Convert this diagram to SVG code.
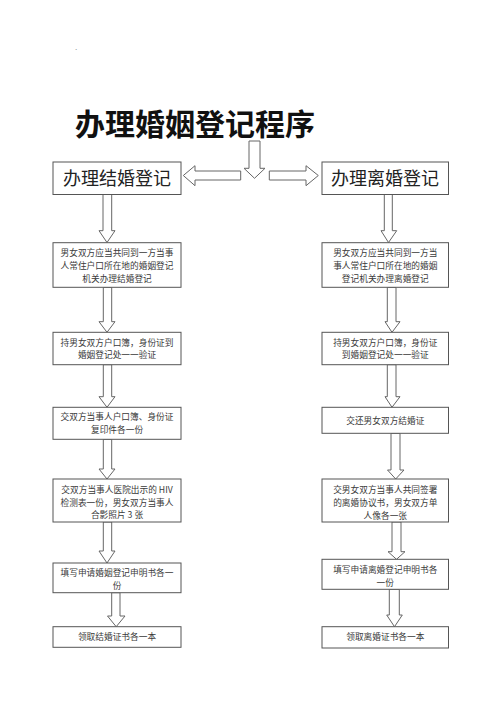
<svg xmlns="http://www.w3.org/2000/svg" width="500" height="708" viewBox="0 0 500 708">
<style>
.bg{fill:#ffffff}
.box{fill:#ffffff;stroke:#555555;stroke-width:1}
.arr{fill:#ffffff;stroke:#666666;stroke-width:1;stroke-linejoin:miter}
.t{font-family:"Noto Sans CJK SC","Liberation Serif",serif;font-size:8.7px;fill:#3a3a3a;text-anchor:middle}
.h{font-family:"Noto Sans CJK SC","Liberation Sans",sans-serif;font-size:18px;fill:#222222;text-anchor:middle}
.title{font-family:"Noto Sans CJK SC","Liberation Sans",sans-serif;font-size:30px;font-weight:bold;fill:#111111}
</style>
<rect class="bg" x="0" y="0" width="500" height="708"/>
<text x="75" y="50" font-family="Liberation Serif, serif" font-size="9" fill="#777777">.</text>
<text id="title" class="title" x="75" y="135">办理婚姻登记程序</text>

<g id="connectors">
  <polygon class="arr" points="249,141 260,141 260,168.3 265,168.3 254.5,178.3 244,168.3 249,168.3"/>
  <polygon class="arr" points="240.7,171 240.7,180 195,180 195,185.7 183.3,175.5 195,165.7 195,171"/>
  <polygon class="arr" points="269.3,171 269.3,180 306,180 306,185.7 318.3,175.5 306,165.7 306,171"/>

  <polygon class="arr" points="103,194 111.7,194 111.7,230.7 115,230.7 107,242.5 99,230.7 103,230.7"/>
  <polygon class="arr" points="103.3,287.3 111.7,287.3 111.7,321.7 115,321.7 107,332.3 99,321.7 103.3,321.7"/>
  <polygon class="arr" points="103.3,364.7 111.7,364.7 111.7,396.7 115,396.7 107,407.3 99,396.7 103.3,396.7"/>
  <polygon class="arr" points="103.3,439.3 111.7,439.3 111.7,469 115,469 107,479 99,469 103.3,469"/>
  <polygon class="arr" points="103.3,522 111.7,522 111.7,551 115,551 107,563 99,551 103.3,551"/>
  <polygon class="arr" points="111.7,592.7 120,592.7 120,616 125,616 116.2,626.7 107.5,616 111.7,616"/>

  <polygon class="arr" points="384.3,194 392.3,194 392.3,230.7 396.7,230.7 388.5,242.5 381,230.7 384.3,230.7"/>
  <polygon class="arr" points="387.3,287.3 396,287.3 396,321.7 400,321.7 392,332.3 385,321.7 387.3,321.7"/>
  <polygon class="arr" points="387.3,364.7 396,364.7 396,396.7 400,396.7 392,407.3 385,396.7 387.3,396.7"/>
  <polygon class="arr" points="391,433.3 400,433.3 400,470 404,470 395.7,479 387.5,470 391,470"/>
  <polygon class="arr" points="392,522 401,522 401,551.7 405,551.7 396.5,559.3 388,551.7 392,551.7"/>
  <polygon class="arr" points="389.3,589.3 399.3,589.3 399.3,615 402.3,615 394.5,626.7 386.7,615 389.3,615"/>
</g>

<g id="node-marry">
  <rect class="box" x="53" y="162" width="128" height="32.5"/>
  <text class="h" x="117" y="185">办理结婚登记</text>
</g>
<g id="node-divorce">
  <rect class="box" x="322" y="162" width="126.5" height="32.5"/>
  <text class="h" x="385" y="185">办理离婚登记</text>
</g>

<g id="node-m1">
  <rect class="box" x="53" y="242.7" width="128" height="44.6"/>
  <text class="t" x="117" y="255.6">男女双方应当共同到一方当事</text>
  <text class="t" x="117" y="269">人常住户口所在地的婚姻登记</text>
  <text class="t" x="117" y="282.3">机关办理结婚登记</text>
</g>
<g id="node-m2">
  <rect class="box" x="53" y="332.3" width="128" height="32.4"/>
  <text class="t" x="117" y="346">持男女双方户口簿，身份证到</text>
  <text class="t" x="117" y="358.3">婚姻登记处一一验证</text>
</g>
<g id="node-m3">
  <rect class="box" x="53" y="407.3" width="128" height="32"/>
  <text class="t" x="117" y="420.3">交双方当事人户口簿、身份证</text>
  <text class="t" x="117" y="433.3">复印件各一份</text>
</g>
<g id="node-m4">
  <rect class="box" x="53" y="479" width="128" height="43"/>
  <text class="t" x="117" y="492.6">交双方当事人医院出示的 HIV</text>
  <text class="t" x="117" y="506">检测表一份，男女双方当事人</text>
  <text class="t" x="117" y="518.3">合影照片 3 张</text>
</g>
<g id="node-m5">
  <rect class="box" x="53" y="563" width="128" height="29.7"/>
  <text class="t" x="117" y="576">填写申请婚姻登记申明书各一</text>
  <text class="t" x="117" y="589">份</text>
</g>
<g id="node-m6">
  <rect class="box" x="53" y="626.7" width="128" height="20.6"/>
  <text class="t" x="117" y="640">领取结婚证书各一本</text>
</g>

<g id="node-d1">
  <rect class="box" x="322" y="242.7" width="126.5" height="44.6"/>
  <text class="t" x="385.3" y="255.6">男女双方应当共同到一方当</text>
  <text class="t" x="385.3" y="269">事人常住户口所在地的婚姻</text>
  <text class="t" x="385.3" y="282.3">登记机关办理离婚登记</text>
</g>
<g id="node-d2">
  <rect class="box" x="322" y="332.3" width="126.5" height="32.4"/>
  <text class="t" x="385.3" y="346">持男女双方户口簿，身份证</text>
  <text class="t" x="385.3" y="358.3">到婚姻登记处一一验证</text>
</g>
<g id="node-d3">
  <rect class="box" x="322" y="407.3" width="126.5" height="26"/>
  <text class="t" x="385.3" y="423.6">交还男女双方结婚证</text>
</g>
<g id="node-d4">
  <rect class="box" x="322" y="479" width="126.5" height="43"/>
  <text class="t" x="385.3" y="492.6">交男女双方当事人共同签署</text>
  <text class="t" x="385.3" y="506">的离婚协议书，男女双方单</text>
  <text class="t" x="385.3" y="519">人像各一张</text>
</g>
<g id="node-d5">
  <rect class="box" x="322" y="559.3" width="126.5" height="30"/>
  <text class="t" x="385.3" y="572.6">填写申请离婚登记申明书各</text>
  <text class="t" x="385.3" y="586">一份</text>
</g>
<g id="node-d6">
  <rect class="box" x="322" y="626.7" width="126.5" height="21.3"/>
  <text class="t" x="385.3" y="640">领取离婚证书各一本</text>
</g>
</svg>
